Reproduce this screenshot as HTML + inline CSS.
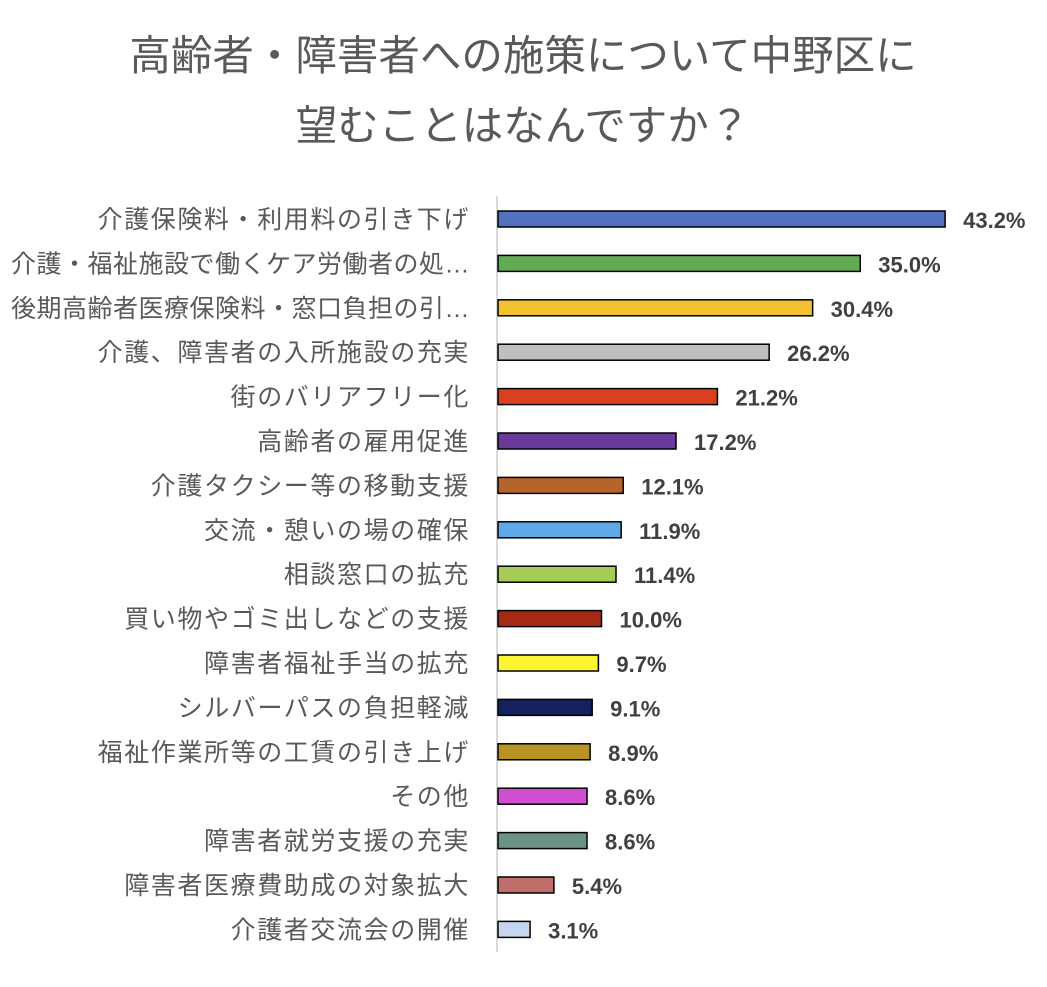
<!DOCTYPE html>
<html><head><meta charset="utf-8"><style>
body{margin:0;background:#fff;width:1047px;height:982px;overflow:hidden}
svg{font-family:"Liberation Sans","Noto Sans CJK JP",sans-serif}
</style></head><body>
<svg id="chart" width="1047" height="982" viewBox="0 0 1047 982">
<text x="523" y="70" text-anchor="middle" font-size="41.5" fill="#595959">高齢者・障害者への施策について中野区に</text>
<text x="523" y="140" text-anchor="middle" font-size="41.5" fill="#595959">望むことはなんですか？</text>
<line x1="497" y1="196" x2="497" y2="952" stroke="#d9d9d9" stroke-width="2"/>
<g id="bars"></g>
</svg>
<script>
const categories=["介護保険料・利用料の引き下げ","介護・福祉施設で働くケア労働者の処…","後期高齢者医療保険料・窓口負担の引…","介護、障害者の入所施設の充実","街のバリアフリー化","高齢者の雇用促進","介護タクシー等の移動支援","交流・憩いの場の確保","相談窓口の拡充","買い物やゴミ出しなどの支援","障害者福祉手当の拡充","シルバーパスの負担軽減","福祉作業所等の工賃の引き上げ","その他","障害者就労支援の充実","障害者医療費助成の対象拡大","介護者交流会の開催"];
const values=[43.2,35.0,30.4,26.2,21.2,17.2,12.1,11.9,11.4,10.0,9.7,9.1,8.9,8.6,8.6,5.4,3.1];
const colors=["#5272c0","#62ab55","#f0c230","#bfbfbf","#d9401f","#6a3a9a","#b5652a","#5ea8e8","#a5cc57","#a52a14","#fcf532","#14215a","#b89425","#d24fd2","#6a9385","#c0706a","#c5d6ee"];
const x=v=>498+v*10.35, y=i=>219+i*44.4;
const g=document.getElementById('bars');const NS="http://www.w3.org/2000/svg";
categories.forEach((c,i)=>{
 const t=document.createElementNS(NS,'text');
 
 
 const long=c.endsWith('…');
 t.setAttribute('x',470);t.setAttribute('y',y(i)+9);t.setAttribute('text-anchor','end');t.setAttribute('font-size','25');t.setAttribute('letter-spacing',long?'0.5':'1.6');t.setAttribute('fill','#595959');t.textContent=c;g.appendChild(t);
 const r=document.createElementNS(NS,'rect');
 
 
 r.setAttribute('x',498);r.setAttribute('y',y(i)-8);r.setAttribute('width',x(values[i])-498);r.setAttribute('height',16);r.setAttribute('fill',colors[i]);r.setAttribute('stroke','#000');r.setAttribute('stroke-width','1.5');g.appendChild(r);
 const v=document.createElementNS(NS,'text');
 
 
 v.setAttribute('x',x(values[i])+18);v.setAttribute('y',y(i)+9);v.setAttribute('font-size','22');v.setAttribute('font-weight','bold');v.setAttribute('fill','#404040');v.textContent=values[i].toFixed(1)+'%';g.appendChild(v);
});
</script>
</body></html>
